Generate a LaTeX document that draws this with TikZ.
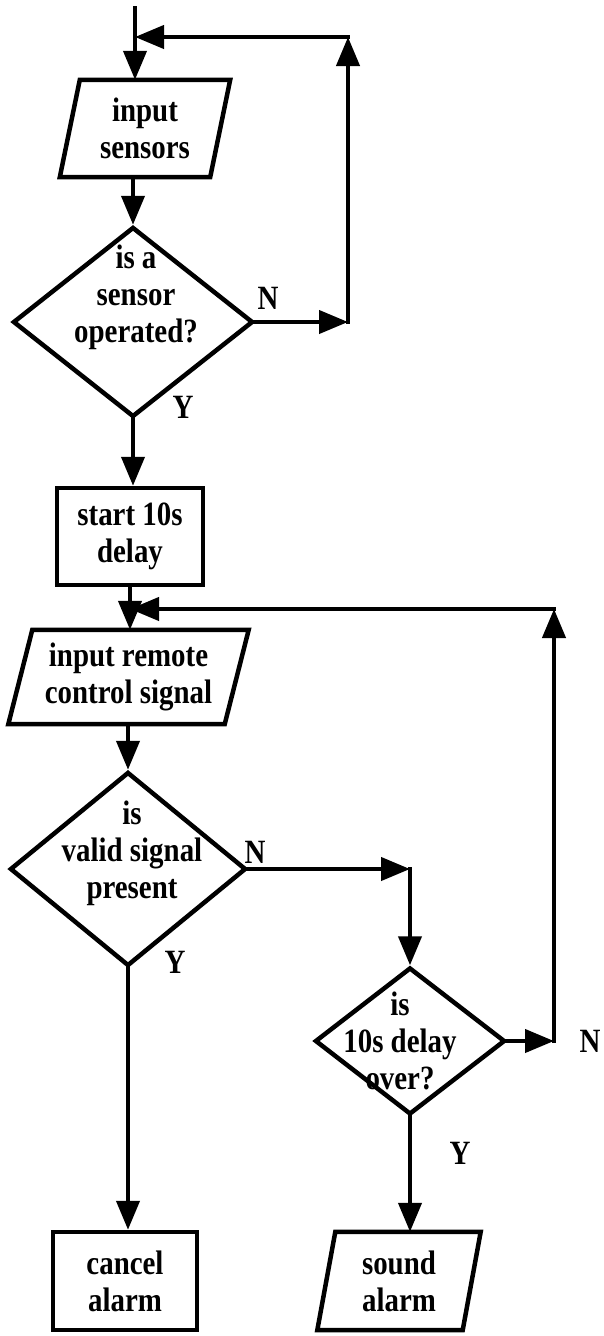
\documentclass[tikz,border=0pt]{standalone}
\usepackage{fontspec}
\setmainfont{Liberation Serif}[FakeStretch=0.85]
\usetikzlibrary{shapes.geometric,arrows.meta}
\newcommand\ioframe[2]{\draw[ioline] ([xshift=#2pt]#1.north west) -- ([xshift=#2pt]#1.north east) -- ([xshift=-#2pt]#1.south east) -- ([xshift=-#2pt]#1.south west) -- cycle;}
\begin{document}
\begin{tikzpicture}[x=1pt,y=-1pt,
  txt/.style={font=\fontsize{34}{37}\selectfont\bfseries, align=center, inner sep=0pt},
  procbox/.style={txt, draw, line width=4.5pt, rectangle},
  iobox/.style={txt, rectangle},
  ioline/.style={line width=4.5pt, line join=miter},
  decision/.style={draw, diamond, line width=4.5pt, inner sep=0pt},
  dtext/.style={txt},
  flow/.style={line width=4.2pt, line cap=rect, -{Triangle[length=29pt,width=23pt]}},
  yn/.style={txt}]
\useasboundingbox (0,0) rectangle (604,1336);

% nodes
\coordinate (start) at (135,8);
\node[iobox, minimum width=150pt, minimum height=97pt] (in1) at (145,128.5) {input\\sensors};
\ioframe{in1}{10}
\node[decision, minimum width=240pt, minimum height=190pt,
      label={[dtext, xshift=3pt, yshift=25pt]center:{is a\\sensor\\operated?}}] (d1) at (133,322) {};
\node[procbox, minimum width=146pt, minimum height=97pt] (delay) at (130,536.5) {start 10s\\delay};
\node[iobox, minimum width=216pt, minimum height=94pt] (in2) at (128.5,677) {input remote\\control signal};
\ioframe{in2}{12}
\node[decision, minimum width=236pt, minimum height=194pt,
      label={[dtext, xshift=4pt, yshift=16pt]center:{is\\valid signal\\present}}] (d2) at (128,869) {};
\node[decision, minimum width=190pt, minimum height=147pt,
      label={[dtext, xshift=-10pt]center:{is\\10s delay\\over?}}] (d3) at (410,1041) {};
\node[procbox, minimum width=144pt, minimum height=98pt] (cancel) at (125,1281) {cancel\\alarm};
\node[iobox, minimum width=145pt, minimum height=98pt] (sound) at (399,1281) {sound\\alarm};
\ioframe{sound}{9}

% labels
\node[yn] (n1) at (268,298) {N};
\node[yn] (y1) at (183,407) {Y};
\node[yn] (n2) at (255,852) {N};
\node[yn] (y2) at (175,962) {Y};
\node[yn] (n3) at (590,1041) {N};
\node[yn] (y3) at (460,1153) {Y};

% loop corners
\coordinate (c1a) at (348,322);
\coordinate (c1b) at (348,37);
\coordinate (j1) at (135,37);
\coordinate (c2a) at (554,1041);
\coordinate (c2b) at (554,609);
\coordinate (j2) at (130,609);
\coordinate (c3) at (410,869);

% connectors
\draw[flow] (start) -- (start |- in1.north);
\draw[flow] (in1.south -| d1.north) -- (d1.north);
\draw[flow] (d1.east) -- (c1a);
\draw[flow] (c1a) -- (c1b);
\draw[flow] (c1b) -- (j1);
\draw[flow] (d1.south) -- (d1.south |- delay.north);
\draw[flow] (delay.south) -- (delay.south |- in2.north);
\draw[flow] (in2.south -| d2.north) -- (d2.north);
\draw[flow] (d2.south) -- (d2.south |- cancel.north);
\draw[flow] (d2.east) -- (c3);
\draw[flow] (c3) -- (d3.north);
\draw[flow] (d3.east) -- (c2a);
\draw[flow] (c2a) -- (c2b);
\draw[flow] (c2b) -- (j2);
\draw[flow] (d3.south) -- (d3.south |- sound.north);
\end{tikzpicture}
\end{document}
